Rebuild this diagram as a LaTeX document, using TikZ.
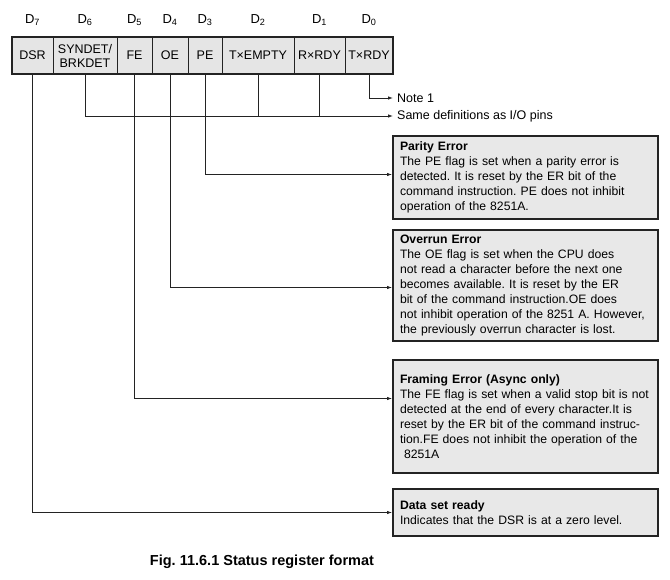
\documentclass[tikz,border=0pt]{standalone}
\usepackage{fontspec}
\setmainfont{Liberation Sans}
\usetikzlibrary{arrows.meta, positioning}
\definecolor{cellg}{RGB}{229, 229, 229}
\definecolor{boxg}{RGB}{232, 232, 232}
\definecolor{edge}{RGB}{35, 35, 35}
\frenchspacing

\begin{document}
\begin{tikzpicture}[
		x=1pt, y=-1pt,
		bit/.style={draw=edge, fill=cellg, line width=1pt, minimum height=37pt,
			inner sep=0pt, outer sep=0pt, align=center, font=\fontsize{12.5}{14}\selectfont},
		bitno/.style={font=\fontsize{13}{14}\selectfont},
		info/.style={draw=edge, fill=boxg, line width=2pt, text width=251pt, inner xsep=7pt,
			align=left, anchor=north west, font=\fontsize{12.2}{15}\selectfont},
		note/.style={anchor=west, inner xsep=4pt, font=\fontsize{12.5}{14}\selectfont},
		flow/.style={-{Latex[length=5pt, width=3.5pt]}, line width=0.8pt, draw=edge},
		node distance=0pt,
		]
		\useasboundingbox (0,0) rectangle (670,580);
		% register cells
		\node[bit, minimum width=41pt, anchor=north west] (dsr) at (12,37) {DSR};
		\node[bit, minimum width=64pt, right=of dsr] (syn) {SYNDET/\\BRKDET};
		\node[bit, minimum width=35pt, right=of syn] (fe) {FE};
		\node[bit, minimum width=36pt, right=of fe] (oe) {OE};
		\node[bit, minimum width=34pt, right=of oe] (pe) {PE};
		\node[bit, minimum width=72pt, right=of pe] (txe) {T×EMPTY};
		\node[bit, minimum width=51pt, right=of txe] (rxr) {R×RDY};
		\node[bit, minimum width=48pt, right=of rxr] (txr) {T×RDY};
		\draw[line width=2.5pt, draw=edge] (dsr.north west) rectangle (txr.south east);
		\foreach \n/\b in {dsr/7, syn/6, fe/5, oe/4, pe/3, txe/2, rxr/1, txr/0}
		\node[bitno] (d\b) at (\n |- 0,20) {D\textsubscript{\b}};
		
		% notes
		\node[note] (n1) at (393,98) {Note 1};
		\node[note] (same) at (393,116) {Same definitions as I/O pins};
		
		% flag boxes
		\node[info, minimum height=83pt] (par) at (392,135) {\textbf{Parity Error}\\
			The PE flag is set when a parity error is\\
			detected. It is reset by the ER bit of the\\
			command instruction. PE does not inhibit\\
			operation of the 8251A.};
		\node[info, minimum height=111pt] (ovr) at (392,229) {\textbf{Overrun Error}\\
			The OE flag is set when the CPU does\\
			not read a character before the next one\\
			becomes available. It is reset by the ER\\
			bit of the command instruction.OE does\\
			not inhibit operation of the 8251 A. However,\\
			the previously overrun character is lost.};
		\node[info, minimum height=113pt] (frm) at (392,359) {\textbf{Framing Error (Async only)}\\
			The FE flag is set when a valid stop bit is not\\
			detected at the end of every character.It is\\
			reset by the ER bit of the command instruc-\\
			tion.FE does not inhibit the operation of the\\
			\ 8251A};
		\node[info, minimum height=47pt] (rdy) at (392,488) {\textbf{Data set ready}\\
			Indicates that the DSR is at a zero level.};
		
		% connectors
		\draw[flow] (txr.south) |- (n1.west);
		\draw[flow] (syn.south) |- (same.west);
		\foreach \n in {txe, rxr}
		\draw[line width=0.8pt, draw=edge] (\n.south) -- (\n.south |- same.west);
		\draw[flow] (pe.south) |- ([yshift=3pt]par.west);
		\draw[flow] (oe.south) |- ([yshift=-2pt]ovr.west);
		\draw[flow] (fe.south) |- ([yshift=18pt]frm.west);
		\draw[flow] (dsr.south) |- (rdy.west);
		
		\node[font=\bfseries\fontsize{14.5}{16}\selectfont] (cap) at (262,562) {Fig. 11.6.1 Status register format};
\end{tikzpicture}
\end{document}
